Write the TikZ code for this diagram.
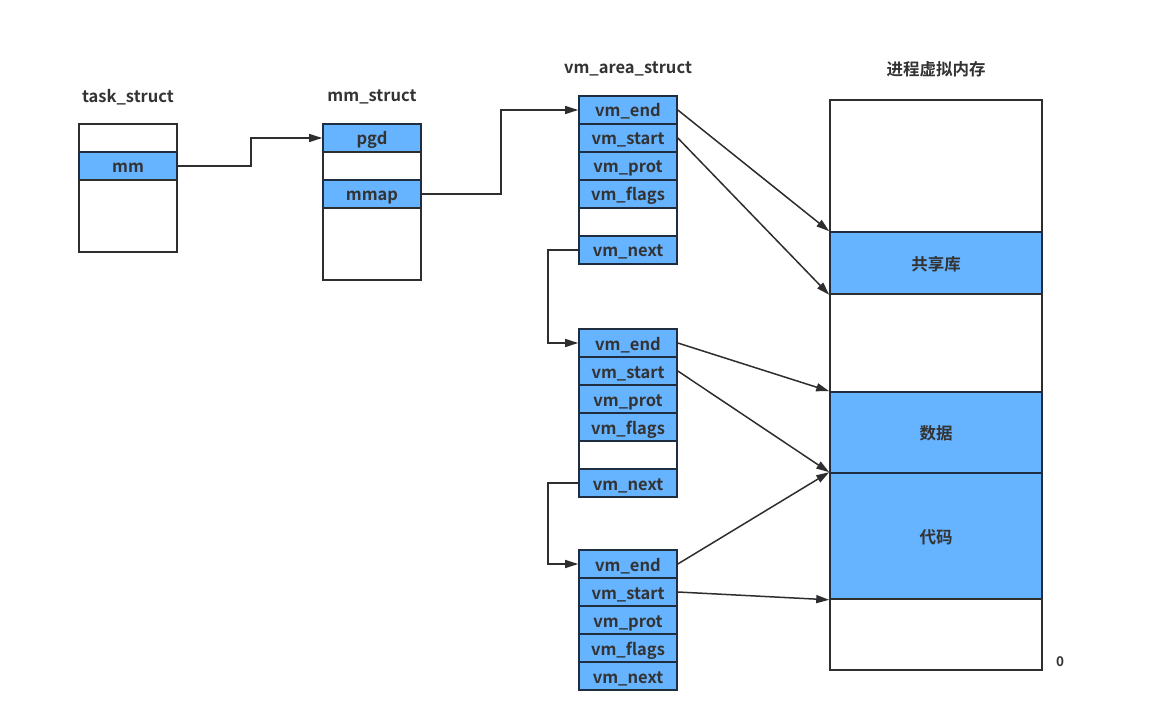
\documentclass[tikz,border=0pt]{standalone}
\usepackage{fontspec}
\setmainfont{Noto Sans CJK SC}[BoldFont={Noto Sans CJK SC Bold}]
\usetikzlibrary{arrows.meta,calc}
\definecolor{cellblue}{HTML}{66B3FF}
\definecolor{lineblue}{HTML}{1E2D40}
\definecolor{linegray}{HTML}{2E2E2E}
\definecolor{txt}{HTML}{333333}
\tikzset{
  cell/.style={draw=linegray, line width=1.6pt, fill=white, minimum width=98pt, minimum height=28pt, inner sep=0pt, text height=15pt, text depth=1pt, text=txt, font=\fontsize{16.5}{19}\selectfont\bfseries},
  bcell/.style={cell, fill=cellblue, draw=lineblue},
  title/.style={text=txt, font=\fontsize{16.5}{19}\selectfont\bfseries, inner sep=0pt},
  arr/.style={draw=linegray, line width=1.5pt, -{Triangle[length=13pt,width=8pt]}},
}
\begin{document}
\begin{tikzpicture}[x=1pt,y=-1pt]
\useasboundingbox (0,0) rectangle (1173,722);
% task_struct
\node[title] (tt) at (128,97) {task\_struct};
\node[cell] (t0) at (128,138) {};
\node[bcell] (tmm) at (128,166) {mm};
\node[cell, minimum height=72pt] (t2) at (128,216) {};
% mm_struct
\node[title] (mt) at (372,97) {mm\_struct};
\node[bcell] (pgd) at (372,138) {pgd};
\node[cell] (m1) at (372,166) {};
\node[bcell] (mmap) at (372,194) {mmap};
\node[cell, minimum height=72pt] (m3) at (372,244) {};
% vm_area_struct 1
\node[title] (vt) at (628,69) {vm\_area\_struct};
\node[bcell] (a1) at (628,110) {vm\_end};
\node[bcell] (a2) at (628,138) {vm\_start};
\node[bcell] (a3) at (628,166) {vm\_prot};
\node[bcell] (a4) at (628,194) {vm\_flags};
\node[cell, draw=lineblue] (a5) at (628,222) {};
\node[bcell] (a6) at (628,250) {vm\_next};
% vm_area_struct 2
\node[bcell] (b1) at (628,343) {vm\_end};
\node[bcell] (b2) at (628,371) {vm\_start};
\node[bcell] (b3) at (628,399) {vm\_prot};
\node[bcell] (b4) at (628,427) {vm\_flags};
\node[cell, draw=lineblue] (b5) at (628,455) {};
\node[bcell] (b6) at (628,483) {vm\_next};
% vm_area_struct 3
\node[bcell] (c1) at (628,564) {vm\_end};
\node[bcell] (c2) at (628,592) {vm\_start};
\node[bcell] (c3) at (628,620) {vm\_prot};
\node[bcell] (c4) at (628,648) {vm\_flags};
\node[bcell] (c5) at (628,676) {vm\_next};
% process virtual memory
\node[title] (pt) at (936,69) {进程虚拟内存};
\node[cell, minimum width=212pt, minimum height=132pt] (p0) at (936,166) {};
\node[bcell, minimum width=212pt, minimum height=62pt] (lib) at (936,263) {共享库};
\node[cell, minimum width=212pt, minimum height=98pt] (p2) at (936,343) {};
\node[bcell, minimum width=212pt, minimum height=81pt] (data) at (936,432.5) {数据};
\node[bcell, minimum width=212pt, minimum height=126pt] (code) at (936,536) {代码};
\node[cell, minimum width=212pt, minimum height=71pt] (p5) at (936,634.5) {};
\node[title, font=\fontsize{13.5}{16}\selectfont\bfseries] (zero) at (1060,662) {0};
% connectors
\draw[arr] (tmm.east) -- ++(73,0) |- (pgd.west);
\draw[arr] (mmap.east) -- ++(79,0) |- (a1.west);
\draw[arr] (a6.west) -- ++(-30,0) |- (b1.west);
\draw[arr] (b6.west) -- ++(-30,0) |- (c1.west);
\draw[arr] (a1.east) -- (lib.north west);
\draw[arr] (a2.east) -- (lib.south west);
\draw[arr] (b1.east) -- (data.north west);
\draw[arr] (b2.east) -- (code.north west);
\draw[arr] (c1.east) -- (code.north west);
\draw[arr] (c2.east) -- (code.south west);
\end{tikzpicture}
\end{document}
